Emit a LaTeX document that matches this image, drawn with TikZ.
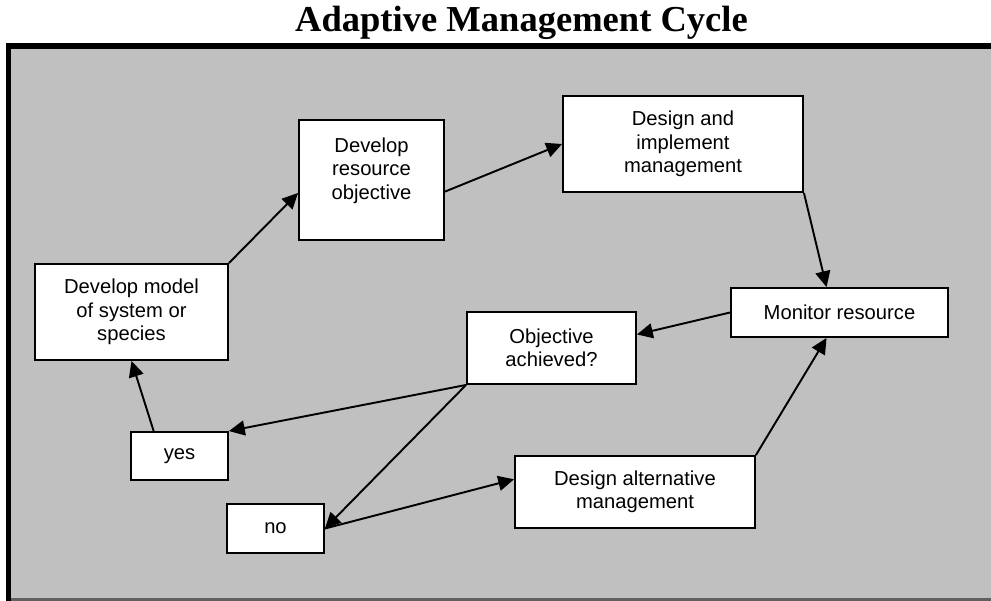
\documentclass[tikz,border=0pt]{standalone}
\usepackage{fontspec}
\setmainfont{Liberation Sans}
\newfontfamily\titlefont{Liberation Serif}
\usetikzlibrary{arrows.meta}
\definecolor{panel}{RGB}{192,192,192}
\definecolor{rim}{RGB}{96,96,96}

\begin{document}
\begin{tikzpicture}[->,>={Triangle[length=9pt,width=8.5pt]},x=0.02cm,y=-0.02cm,line width=1.1pt,
    box/.style={rectangle,draw,fill=white,line width=1.1pt,inner sep=0pt,align=center,font=\fontsize{11.5}{13.4}\selectfont}]

            \useasboundingbox (0,0) rectangle (991,601);

            % grey panel with its heavy rim
            \fill[-,panel] (6,43) rectangle (991,601);
            \fill[-,black] (6,43) rectangle (991,49);
            \fill[-,black] (6,43) rectangle (11,601);
            \fill[-,rim] (11,598) rectangle (991,601);

            \node[font=\titlefont\bfseries\fontsize{20.8}{24}\selectfont, anchor=base] (title) at (521.5,32) {Adaptive Management Cycle};

            \node[box, minimum width=3.86cm, minimum height=1.92cm] (model) at (131.5,312) {Develop model\\of system or\\species};
            \node[box, minimum width=1.94cm, minimum height=0.96cm] (yes) at (179.5,456) {yes};
            \node[box, minimum width=2.9cm, minimum height=2.4cm] (res) at (371.5,180) {Develop\\resource\\objective\\~};
            \node[box, minimum width=4.8cm, minimum height=1.92cm] (design) at (683,144) {Design and\\implement\\management};
            \node[box, minimum width=4.34cm, minimum height=0.98cm] (monitor) at (839.5,312.5) {Monitor resource};
            \node[box, minimum width=3.38cm, minimum height=1.44cm] (obj) at (551.5,348) {Objective\\achieved?};
            \node[box, minimum width=4.8cm, minimum height=1.44cm] (alt) at (635,492) {Design alternative\\management};
            \node[box, minimum width=1.94cm, minimum height=0.98cm] (no) at (275.5,528.5) {no};

            \path
                (model.north east) edge (res.190)
                (res.-9) edge (design.west)
                (design.south east) edge (monitor.117)
                (monitor.west) edge (obj.9)
                (obj.south west) edge (yes.north east)
                (obj.south west) edge (no.east)
                (no.east) edge (alt.174)
                (alt.north east) edge (monitor.243)
                (yes.136) edge (model.south)
            ;

        \end{tikzpicture}
\end{document}
